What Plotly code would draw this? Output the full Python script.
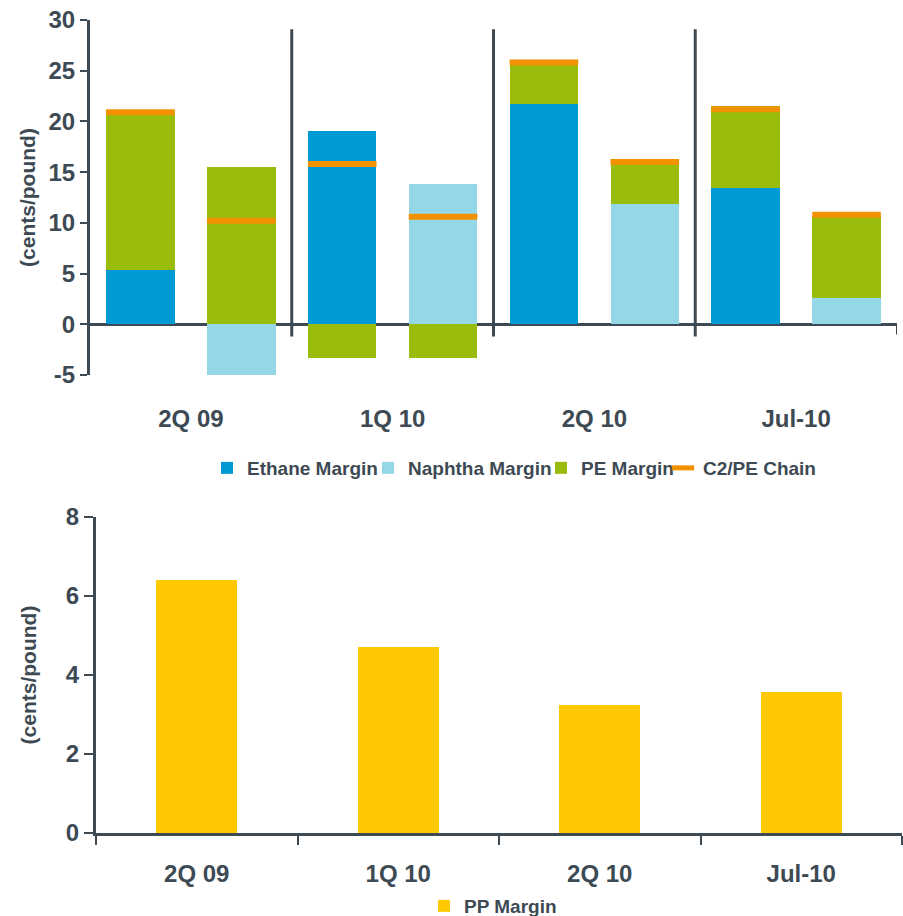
import plotly.graph_objects as go

# Periods shown on both charts
periods = ["2Q 09", "1Q 10", "2Q 10", "Jul-10"]

# Ethylene chain margins (cents/pound); each period has an ethane-fed bar and a naphtha-fed bar
ethane_margin = [5.4, 19.1, 21.7, 13.4]
naphtha_margin = [-5.4, 13.8, 11.9, 2.6]
pe_margin_ethane_bar = [15.7, -3.3, 4.3, 8.1]
pe_margin_naphtha_bar = [15.5, -3.3, 4.1, 8.1]
c2_pe_chain_ethane_bar = [20.9, 15.8, 25.8, 21.2]
c2_pe_chain_naphtha_bar = [10.2, 10.6, 16.0, 10.8]

# Polypropylene margin (cents/pound)
pp_margin = [6.4, 4.72, 3.25, 3.57]

# Axis ticks
top_ticks = [-5, 0, 5, 10, 15, 20, 25, 30]
bottom_ticks = [0, 2, 4, 6, 8]

# Styling
TEXT = "#3d4a53"
AXIS = "#3d4a53"
C_ETHANE = "#009bd5"
C_NAPHTHA = "#94d8e8"
C_PE = "#99bc0d"
C_CHAIN = "#f39200"
C_PP = "#ffc800"
FONT = "Liberation Sans, Arial, sans-serif"

W, H = 903, 916

# Numeric slot positions: two bars per period
eth_x = [2 * i for i in range(len(periods))]
nap_x = [2 * i + 1 for i in range(len(periods))]
all_x = []
pe_all = []
chain_all = []
for i in range(len(periods)):
    all_x += [eth_x[i], nap_x[i]]
    pe_all += [pe_margin_ethane_bar[i], pe_margin_naphtha_bar[i]]
    chain_all += [c2_pe_chain_ethane_bar[i], c2_pe_chain_naphtha_bar[i]]

BAR_W = 0.68

fig = go.Figure()

fig.add_trace(go.Bar(x=eth_x, y=ethane_margin, width=BAR_W, name="Ethane Margin",
                     marker=dict(color=C_ETHANE, line=dict(width=0)),
                     xaxis="x", yaxis="y", legend="legend"))
fig.add_trace(go.Bar(x=nap_x, y=naphtha_margin, width=BAR_W, name="Naphtha Margin",
                     marker=dict(color=C_NAPHTHA, line=dict(width=0)),
                     xaxis="x", yaxis="y", legend="legend3"))
fig.add_trace(go.Bar(x=all_x, y=pe_all, width=BAR_W, name="PE Margin",
                     marker=dict(color=C_PE, line=dict(width=0)),
                     xaxis="x", yaxis="y", legend="legend4"))
fig.add_trace(go.Scatter(x=all_x, y=chain_all, mode="markers", name="C2/PE Chain",
                         marker=dict(symbol="line-ew", size=49,
                                     line=dict(color=C_CHAIN, width=6)),
                         xaxis="x", yaxis="y", legend="legend5"))

fig.add_trace(go.Bar(x=periods, y=pp_margin, width=0.4, name="PP Margin",
                     marker=dict(color=C_PP, line=dict(width=0)),
                     xaxis="x2", yaxis="y2", legend="legend2"))

# Period separators in the upper chart
shapes = []
for i in range(1, len(periods)):
    xs = 2 * i - 0.5
    shapes.append(dict(type="line", xref="x", yref="y", x0=xs, x1=xs, y0=-1.2, y1=29.1,
                       line=dict(color=AXIS, width=3)))
shapes.append(dict(type="line", xref="x", yref="y", x0=2 * len(periods) - 0.5,
                   x1=2 * len(periods) - 0.5, y0=-1.0, y1=0,
                   line=dict(color=AXIS, width=2)))

tick_font = dict(family=FONT, size=24, color=TEXT, weight="bold")
title_font = dict(family=FONT, size=21, color=TEXT, weight="bold")
legend_font = dict(family=FONT, size=19, color=TEXT, weight="bold")


def one_legend(x_px, y_px):
    return dict(orientation="h", x=x_px / W, xanchor="left", y=1 - y_px / H, yanchor="middle",
                font=legend_font, itemwidth=30, bgcolor="rgba(0,0,0,0)")


fig.update_layout(
    width=W, height=H,
    margin=dict(l=0, r=0, t=0, b=0, autoexpand=False),
    paper_bgcolor="white", plot_bgcolor="white",
    barmode="relative",
    bargap=0,
    shapes=shapes,
    showlegend=True,
    xaxis=dict(domain=[90 / W, 897 / W], range=[-0.5, 2 * len(periods) - 0.5],
               tickvals=[2 * i + 0.5 for i in range(len(periods))], ticktext=periods,
               ticks="", showline=False, showgrid=False, zeroline=False,
               tickfont=tick_font, ticklabelstandoff=27, anchor="y", fixedrange=True,
               automargin=False),
    yaxis=dict(domain=[1 - 375 / H, 1 - 20 / H], range=[-5, 30],
               tickvals=top_ticks, ticktext=[str(v) for v in top_ticks],
               showgrid=False, showline=True, linecolor=AXIS, linewidth=3,
               ticks="outside", ticklen=7, tickwidth=2, tickcolor=AXIS,
               zeroline=True, zerolinecolor=AXIS, zerolinewidth=3,
               tickfont=tick_font, ticklabelstandoff=0, layer="above traces",
               title=dict(text="(cents/pound)", font=title_font, standoff=8),
               anchor="x", fixedrange=True, automargin=False),
    xaxis2=dict(domain=[96 / W, 902 / W], type="category", range=[-0.5, len(periods) - 0.5],
                tickson="boundaries", ticks="outside", ticklen=9, tickwidth=2, tickcolor=AXIS,
                showline=True, linecolor=AXIS, linewidth=3, showgrid=False, zeroline=False,
                tickfont=tick_font, ticklabelstandoff=17, anchor="y2", fixedrange=True,
                automargin=False),
    yaxis2=dict(domain=[1 - 833 / H, 1 - 517 / H], range=[0, 8],
                tickvals=bottom_ticks, ticktext=[str(v) for v in bottom_ticks],
                showgrid=False, showline=True, linecolor=AXIS, linewidth=3,
                ticks="outside", ticklen=9, tickwidth=2, tickcolor=AXIS, zeroline=False,
                tickfont=tick_font, ticklabelstandoff=0, layer="above traces",
                title=dict(text="(cents/pound)", font=title_font, standoff=24),
                anchor="x2", fixedrange=True, automargin=False),
    legend=one_legend(207, 468),
    legend3=one_legend(368, 468),
    legend4=one_legend(541, 468),
    legend5=one_legend(663, 468),
    legend2=one_legend(424, 906),
)

fig.write_html("out.html")
